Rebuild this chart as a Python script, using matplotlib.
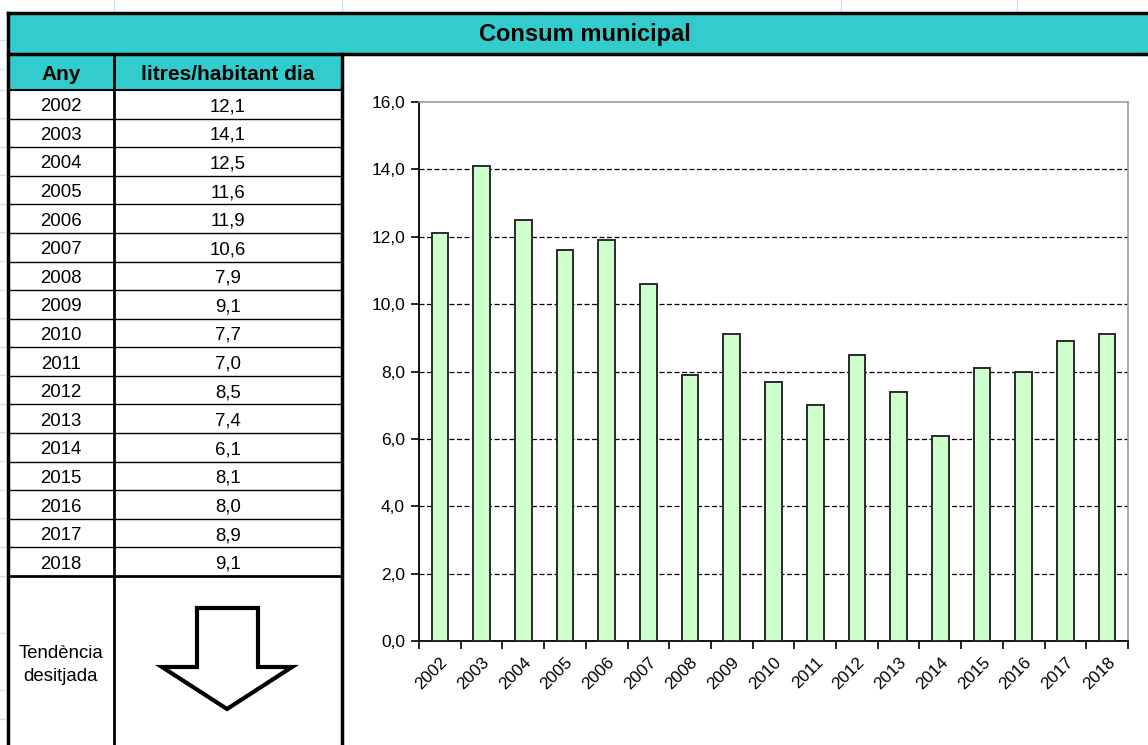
import matplotlib.pyplot as plt
import numpy as np
from matplotlib.patches import Rectangle, Polygon

plt.rcParams['font.family'] = ['Liberation Sans', 'DejaVu Sans']

# Dades
anys = ['2002', '2003', '2004', '2005', '2006', '2007', '2008', '2009', '2010',
        '2011', '2012', '2013', '2014', '2015', '2016', '2017', '2018']
litres = [12.1, 14.1, 12.5, 11.6, 11.9, 10.6, 7.9, 9.1, 7.7,
          7.0, 8.5, 7.4, 6.1, 8.1, 8.0, 8.9, 9.1]
y_ticks = [0, 2, 4, 6, 8, 10, 12, 14, 16]

W, H = 1148, 745
TEAL = '#33CCCC'
fig = plt.figure(figsize=(W / 100, H / 100), dpi=100)

# fons en coordenades de píxel
bg = fig.add_axes([0, 0, 1, 1])
bg.set_xlim(0, W)
bg.set_ylim(H, 0)
bg.axis('off')

# línies tènues del full de càlcul
for xv in [114, 342, 841, 1017]:
    bg.plot([xv, xv], [0, 12], color='#d8dde6', lw=1)
for yv in [40, 69, 90, 118, 147, 175, 204, 232, 261, 290, 318, 347, 375, 404,
           432, 461, 490, 518, 547, 576, 633, 690, 719]:
    bg.plot([0, 5], [yv, yv], color='#d8dde6', lw=1)

# capçalera
bg.add_patch(Rectangle((8, 13), W, 41, facecolor=TEAL, edgecolor='none'))
bg.plot([8, W], [13, 13], color='black', lw=2.5)
bg.plot([8, W], [54, 54], color='black', lw=2.5)
bg.plot([8, 8], [13, H], color='black', lw=2.5)
bg.text(585, 35, 'Consum municipal', ha='center', va='center',
        fontsize=17, fontweight='bold')

# taula
x0, x1, x2 = 8, 114, 342
top_rows = 90
row_h = (576 - 90) / len(anys)
bg.add_patch(Rectangle((x0, 54), x2 - x0, 36, facecolor=TEAL, edgecolor='none'))
bg.text((x0 + x1) / 2, 74, 'Any', ha='center', va='center', fontsize=15, fontweight='bold')
bg.text((x1 + x2) / 2, 74, 'litres/habitant dia', ha='center', va='center',
        fontsize=15, fontweight='bold')
bg.plot([x0, x2], [top_rows, top_rows], color='black', lw=1.5)

for i, (a, v) in enumerate(zip(anys, litres)):
    yc = top_rows + (i + 0.5) * row_h
    bg.text((x0 + x1) / 2, yc + 2.5, a, ha='center', va='center', fontsize=13.4)
    bg.text((x1 + x2) / 2, yc + 2.5, f'{v:.1f}'.replace('.', ','), ha='center',
            va='center', fontsize=13.4)
    if i > 0:
        yl = top_rows + i * row_h
        bg.plot([x0, x2], [yl, yl], color='black', lw=1)

bg.plot([x0, x2], [576, 576], color='black', lw=2)
bg.plot([x1, x1], [54, H], color='black', lw=2)
bg.plot([x2, x2], [54, H], color='black', lw=2.5)

bg.text((x0 + x1) / 2, 665, 'Tendència\ndesitjada', ha='center', va='center',
        fontsize=13.4, linespacing=1.5)
fletxa = [(197, 608), (258, 608), (258, 667), (292, 667), (227, 709),
          (162, 667), (197, 667)]
bg.add_patch(Polygon(fletxa, closed=True, facecolor='white', edgecolor='black',
                     lw=3, joinstyle='miter'))

# gràfic
left, right, top, bottom = 419, 1128, 102, 641
ax = fig.add_axes([left / W, 1 - bottom / H, (right - left) / W, (bottom - top) / H])
x = np.arange(len(anys))
ax.bar(x, litres, width=0.4, color='#CCFFCC', edgecolor='#2a2a2a', linewidth=1.4,
       zorder=3)
ax.set_xlim(-0.5, len(anys) - 0.5)
ax.set_ylim(0, 16)
ax.set_yticks(y_ticks)
ax.set_yticklabels([f'{t:.1f}'.replace('.', ',') for t in y_ticks], fontsize=12.5)
for t in y_ticks[1:-1]:
    ax.axhline(t, color='black', lw=0.9, linestyle=(0, (4, 2)), zorder=1)

ax.set_xticks(np.arange(-0.5, len(anys)), labels=[])
ax.set_xticks(x, labels=anys, minor=True)
ax.tick_params(axis='x', which='major', direction='out', length=6, width=1.2)
ax.tick_params(axis='x', which='minor', length=0, pad=10, labelsize=12.3)
for lab in ax.get_xticklabels(minor=True):
    lab.set_rotation(45)
    lab.set_ha('right')
    lab.set_va('top')
    lab.set_rotation_mode('anchor')
ax.tick_params(axis='y', direction='out', length=6, width=1.2, pad=4)

ax.spines['left'].set_linewidth(1.3)
ax.spines['bottom'].set_linewidth(1.3)
ax.spines['top'].set_color('#999999')
ax.spines['right'].set_color('#999999')
ax.spines['top'].set_linewidth(1.2)
ax.spines['right'].set_linewidth(1.2)

fig.savefig('out.png', dpi=100)
